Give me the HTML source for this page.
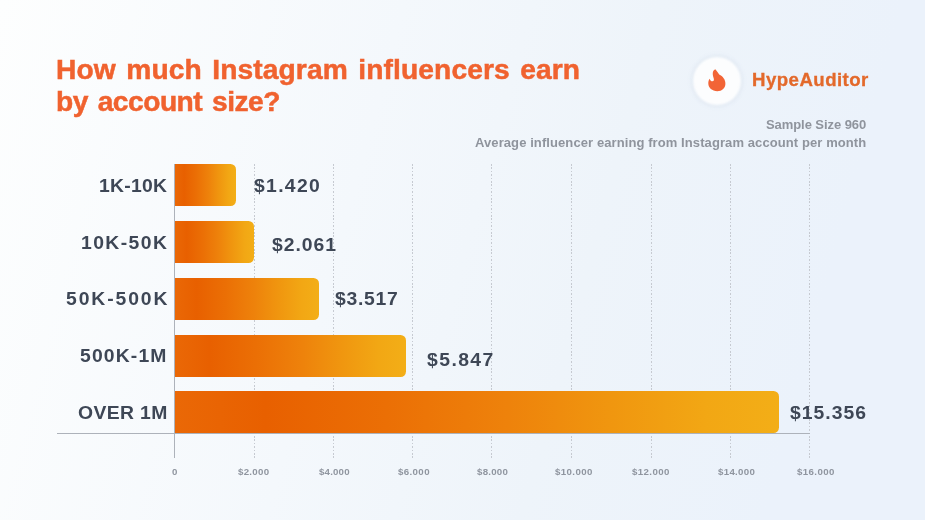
<!DOCTYPE html>
<html><head><meta charset="utf-8">
<style>
html,body{margin:0;padding:0;}
body{width:925px;height:520px;overflow:hidden;position:relative;font-family:"Liberation Sans",sans-serif;
background:linear-gradient(105deg,#fdfefe 0%,#f4f8fc 38%,#eef4fa 62%,#ebf2fb 85%,#ebf2fb 100%);}
.t{position:absolute;white-space:nowrap;line-height:1;font-weight:bold;will-change:transform;}
.bl{display:inline-block;width:0;height:0;}
.circle{position:absolute;left:692.6px;top:57px;width:48px;height:48px;border-radius:50%;background:#fcfdfe;box-shadow:0 0 5px 0 rgba(150,170,195,0.30);filter:blur(0.9px);}
.bar{position:absolute;left:175px;height:42px;border-radius:0 5.5px 5.5px 0;background:linear-gradient(90deg,#ea6806 0%,#e86000 15%,#eb6f05 35%,#ee820b 55%,#f0960f 72%,#f2a714 88%,#f3ae17 100%);}
.grid{position:absolute;top:164px;height:295px;width:1px;background:repeating-linear-gradient(to bottom,#c6cad1 0 1.6px,transparent 1.6px 3.4px);}
#vaxis{position:absolute;left:174px;top:164px;width:1px;height:294px;background:#adb2ba;}
#haxis{position:absolute;left:57px;top:433px;width:753px;height:1px;background:#adb2ba;}

</style></head><body>
<div class="g">
<div class="circle"></div>
<svg style="position:absolute;left:697px;top:62px" width="40" height="38" viewBox="0 0 40 38"><path fill="#f26436" d="M18.3,7.3 C19.8,9 20.8,10.6 22.2,12.6 C25.8,14.3 28.4,17.6 28.4,21.7 C28.4,26 25,29.2 20.3,29.2 C15.2,29.2 11.3,25.8 11.3,21.3 C11.3,19.5 11.8,17.9 12.6,16.7 C13.2,18.3 14.2,19.3 15.4,19.3 C16.8,19.3 17.3,18 16.6,16 C15.8,13.7 15.5,11.5 16,9.8 C16.4,8.6 17.2,7.8 18.3,7.3 Z"/></svg>
<div class="grid" style="left:254px"></div>
<div class="grid" style="left:333px"></div>
<div class="grid" style="left:412px"></div>
<div class="grid" style="left:491px"></div>
<div class="grid" style="left:571px"></div>
<div class="grid" style="left:651px"></div>
<div class="grid" style="left:730px"></div>
<div class="grid" style="left:809px"></div>
<div id="haxis"></div><div id="vaxis"></div>
<div class="bar" style="top:164px;width:61px"></div>
<div class="bar" style="top:221px;width:79px"></div>
<div class="bar" style="top:278px;width:144px"></div>
<div class="bar" style="top:335px;width:231px"></div>
<div class="bar" style="top:391px;width:604px"></div>
</div>
<div id="title1" class="t" style="left:56.40px;top:55.41px;font-size:28.20px;letter-spacing:0.101px;color:#f0622f;word-spacing:2.5px;-webkit-text-stroke:0.5px #f0622f;">How much Instagram influencers earn<span class="bl"></span></div>
<div id="title2" class="t" style="left:56.40px;top:86.91px;font-size:28.20px;letter-spacing:-0.511px;color:#f0622f;word-spacing:2.5px;-webkit-text-stroke:0.5px #f0622f;">by account size?<span class="bl"></span></div>
<div id="brand" class="t" style="left:751.80px;top:71.82px;font-size:17.60px;letter-spacing:0.419px;color:#e3692b;transform:scaleX(1.0600);transform-origin:0 0;-webkit-text-stroke:0.3px #e3692b;">HypeAuditor<span class="bl"></span></div>
<div id="sample" class="t" style="left:765.60px;top:117.51px;font-size:13.00px;letter-spacing:-0.071px;color:#8f949d;">Sample Size 960<span class="bl"></span></div>
<div id="avg" class="t" style="left:475.20px;top:136.20px;font-size:13.00px;letter-spacing:0.090px;color:#8f949d;">Average influencer earning from Instagram account per month<span class="bl"></span></div>
<div id="lab1" class="t" style="left:99.40px;top:177.00px;font-size:18.60px;letter-spacing:0.243px;color:#3e4756;transform:scaleX(1.0400);transform-origin:0 0;">1K-10K<span class="bl"></span></div>
<div id="lab2" class="t" style="left:81.40px;top:234.11px;font-size:18.60px;letter-spacing:1.361px;color:#3e4756;transform:scaleX(1.0400);transform-origin:0 0;">10K-50K<span class="bl"></span></div>
<div id="lab3" class="t" style="left:66.20px;top:290.00px;font-size:18.60px;letter-spacing:1.826px;color:#3e4756;transform:scaleX(1.0400);transform-origin:0 0;">50K-500K<span class="bl"></span></div>
<div id="lab4" class="t" style="left:80.20px;top:347.00px;font-size:18.60px;letter-spacing:1.109px;color:#3e4756;transform:scaleX(1.0400);transform-origin:0 0;">500K-1M<span class="bl"></span></div>
<div id="lab5" class="t" style="left:77.80px;top:403.50px;font-size:18.60px;letter-spacing:0.364px;color:#3e4756;transform:scaleX(1.0400);transform-origin:0 0;">OVER 1M<span class="bl"></span></div>
<div id="val1" class="t" style="left:253.60px;top:176.61px;font-size:18.60px;letter-spacing:1.275px;color:#3e4756;transform:scaleX(1.0400);transform-origin:0 0;">$1.420<span class="bl"></span></div>
<div id="val2" class="t" style="left:272.40px;top:235.90px;font-size:18.60px;letter-spacing:0.919px;color:#3e4756;transform:scaleX(1.0400);transform-origin:0 0;">$2.061<span class="bl"></span></div>
<div id="val3" class="t" style="left:334.60px;top:290.21px;font-size:18.60px;letter-spacing:0.716px;color:#3e4756;transform:scaleX(1.0400);transform-origin:0 0;">$3.517<span class="bl"></span></div>
<div id="val4" class="t" style="left:427.40px;top:350.50px;font-size:18.60px;letter-spacing:1.378px;color:#3e4756;transform:scaleX(1.0400);transform-origin:0 0;">$5.847<span class="bl"></span></div>
<div id="val5" class="t" style="left:789.60px;top:404.21px;font-size:18.60px;letter-spacing:0.982px;color:#3e4756;transform:scaleX(1.0400);transform-origin:0 0;">$15.356<span class="bl"></span></div>
<div id="t0" class="t" style="left:171.60px;top:467.00px;font-size:9.70px;letter-spacing:0.000px;color:#8f959f;">0<span class="bl"></span></div>
<div id="t2" class="t" style="left:238.00px;top:467.21px;font-size:9.70px;letter-spacing:0.280px;color:#8f959f;">$2.000<span class="bl"></span></div>
<div id="t4" class="t" style="left:319.40px;top:466.91px;font-size:9.70px;letter-spacing:0.180px;color:#8f959f;">$4.000<span class="bl"></span></div>
<div id="t6" class="t" style="left:397.60px;top:466.91px;font-size:9.70px;letter-spacing:0.380px;color:#8f959f;">$6.000<span class="bl"></span></div>
<div id="t8" class="t" style="left:477.20px;top:466.91px;font-size:9.70px;letter-spacing:0.240px;color:#8f959f;">$8.000<span class="bl"></span></div>
<div id="t10" class="t" style="left:555.20px;top:466.61px;font-size:9.70px;letter-spacing:0.383px;color:#8f959f;">$10.000<span class="bl"></span></div>
<div id="t12" class="t" style="left:632.40px;top:466.61px;font-size:9.70px;letter-spacing:0.400px;color:#8f959f;">$12.000<span class="bl"></span></div>
<div id="t14" class="t" style="left:717.80px;top:466.61px;font-size:9.70px;letter-spacing:0.317px;color:#8f959f;">$14.000<span class="bl"></span></div>
<div id="t16" class="t" style="left:797.40px;top:466.61px;font-size:9.70px;letter-spacing:0.383px;color:#8f959f;">$16.000<span class="bl"></span></div>
</body></html>
